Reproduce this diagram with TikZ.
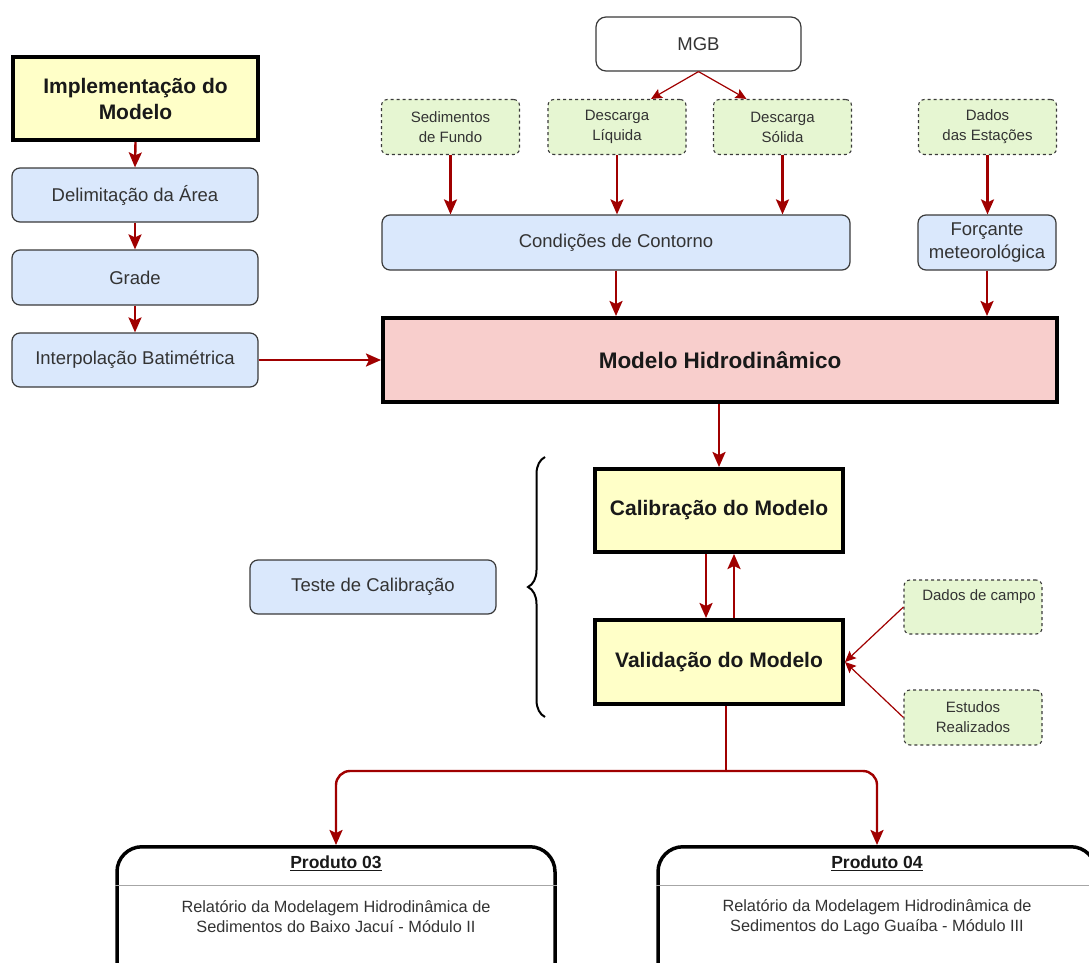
\documentclass[tikz,border=0pt]{standalone}
\usepackage{fontspec}
\setmainfont{Liberation Sans}
\usetikzlibrary{arrows.meta,decorations.pathreplacing,calc}
\newcommand{\fsz}[2]{\fontsize{#1}{#2}\selectfont}
\definecolor{arrred}{HTML}{A00000}
\definecolor{bluef}{HTML}{DAE8FC}
\definecolor{greenf}{HTML}{E6F6D2}
\definecolor{yellowf}{HTML}{FFFFC8}
\definecolor{pinkf}{HTML}{F8CECC}
\definecolor{textgray}{HTML}{333333}
\definecolor{bordgray}{HTML}{3A3A3A}
\tikzset{
  bluebox/.style={draw=bordgray, fill=bluef, rounded corners=8pt, line width=1.2pt,
    align=center, text=textgray, inner sep=0pt, font=\fsz{18.5}{23}},
  greenbox/.style={draw=bordgray, dashed, fill=greenf, rounded corners=6pt, line width=1.1pt,
    align=center, text=textgray, inner sep=0pt, font=\fsz{15}{20},
    minimum width=138pt, minimum height=55pt},
  boldbox/.style={draw=black, line width=4pt, align=center, inner sep=0pt,
    text=black!90, font=\bfseries\fsz{21}{26}},
  prodbox/.style={draw=black, line width=3.5pt, rounded corners=25pt, fill=white, inner sep=0pt},
  redarr/.style={draw=arrred, line width=2.4pt, -{Stealth[length=15pt, width=13pt, inset=3pt]}},
  thinarr/.style={draw=arrred, line width=1.2pt, -{Stealth[length=11pt, width=10pt, inset=2pt]}},
  redline/.style={draw=arrred, line width=2.4pt},
}
\begin{document}
\begin{tikzpicture}[x=1pt,y=-1pt]
\useasboundingbox (0,0) rectangle (1089,963);
\clip (0,0) rectangle (1089,963);

% left column
\node[boldbox, fill=yellowf, minimum width=245pt, minimum height=83pt] (impl) at (135.5,98.5) {Implementação do\\Modelo};
\node[bluebox, minimum width=246pt, minimum height=54pt] (delim) at (135,195) {Delimitação da Área};
\node[bluebox, minimum width=246pt, minimum height=55pt] (grade) at (135,277.5) {Grade};
\node[bluebox, minimum width=246pt, minimum height=54pt] (interp) at (135,360) {Interpolação Batimétrica};

% top
\node[draw=bordgray, fill=white, rounded corners=10pt, line width=1.2pt, text=textgray,
  font=\fsz{18.5}{23}, minimum width=205pt, minimum height=54pt, inner sep=0pt] (mgb) at (698.5,44) {MGB};
\node[greenbox] (sed) at (450.5,127) {Sedimentos\\de Fundo};
\node[greenbox] (liq) at (617,127) {Descarga\\Líquida};
\node[greenbox] (sol) at (782.5,127) {Descarga\\Sólida};
\node[greenbox] (dados) at (987.5,127) {Dados\\das Estações};
\node[bluebox, minimum width=468pt, minimum height=55pt] (cond) at (616,242.5) {Condições de Contorno};
\node[bluebox, minimum width=138pt, minimum height=55pt] (forc) at (987,242.5) {Forçante\\meteorológica};

\node[boldbox, fill=pinkf, minimum width=674pt, minimum height=84pt, font=\bfseries\fsz{22.5}{26}] (modelo) at (720,360) {Modelo Hidrodinâmico};

\node[boldbox, fill=yellowf, minimum width=248pt, minimum height=83pt] (calib) at (719,510.5) {Calibração do Modelo};
\node[boldbox, fill=yellowf, minimum width=248pt, minimum height=84pt] (valid) at (719,662) {Validação do Modelo};

\node[greenbox, minimum height=54pt,
  label={[text=textgray, font=\fsz{15}{20}, anchor=north, yshift=-7pt, xshift=6pt]north:Dados de campo}] (campo) at (973,607) {};
\node[greenbox] (estudos) at (973,717.5) {Estudos\\Realizados};

\node[bluebox, minimum width=246pt, minimum height=54pt] (teste) at (373,587) {Teste de Calibração};

% brace
\coordinate (bb) at (545,717);
\coordinate (bt) at (545,457);
\draw[line width=2pt, black, decorate, decoration={brace, amplitude=17pt}] (bb) -- (bt);

% products
\node[prodbox, minimum width=438pt, minimum height=170pt, anchor=north] (p3) at (336,845) {};
\node[prodbox, minimum width=438pt, minimum height=170pt, anchor=north] (p4) at (877,845) {};
\draw[black!35, line width=0.9pt] ([yshift=-40pt]p3.north west) -- ([yshift=-40pt]p3.north east);
\draw[black!35, line width=0.9pt] ([yshift=-40pt]p4.north west) -- ([yshift=-40pt]p4.north east);
\node[font=\bfseries\fsz{17.5}{20}, text=black!90] (p3t) at (336,863) {\underline{Produto 03}};
\node[font=\bfseries\fsz{17.5}{20}, text=black!90] (p4t) at (877,863) {\underline{Produto 04}};
\node[align=center, text=textgray, font=\fsz{16.3}{20}] (p3d) at (336,917) {Relatório da Modelagem Hidrodinâmica de\\Sedimentos do Baixo Jacuí - Módulo II};
\node[align=center, text=textgray, font=\fsz{16.3}{20}] (p4d) at (877,917) {Relatório da Modelagem Hidrodinâmica de\\Sedimentos do Lago Guaíba - Módulo III};

% connectors left column
\draw[redarr] (impl.south) -- (delim.north);
\draw[redarr] (delim.south) -- (grade.north);
\draw[redarr] (grade.south) -- (interp.north);
\draw[redarr] (interp.east) -- (modelo.west);

% MGB arrows
\draw[thinarr] (mgb.south) -- ([xshift=34pt]liq.north);
\draw[thinarr] (mgb.south) -- ([xshift=-36pt]sol.north);

\draw[redarr] (sed.south) -- (sed.south |- cond.north);
\draw[redarr] (liq.south) -- (liq.south |- cond.north);
\draw[redarr] (sol.south) -- (sol.south |- cond.north);
\draw[redarr] (dados.south) -- (dados.south |- forc.north);
\draw[redarr] (cond.south) -- (cond.south |- modelo.north);
\draw[redarr] (forc.south) -- (forc.south |- modelo.north);
\draw[redarr] (modelo.south -| calib.north) -- (calib.north);

\draw[redarr] ([xshift=-13pt]calib.south) -- ([xshift=-13pt]valid.north);
\draw[redarr] ([xshift=15pt]valid.north) -- ([xshift=15pt]calib.south);

\draw[thinarr] (campo.west) -- (valid.east);
\draw[thinarr] (estudos.west) -- (valid.east);

% bottom branch
\coordinate (j) at (726,771);
\draw[redline] (valid.south -| j) -- (j);
\draw[redarr, rounded corners=14pt] (j) -- (p3.north |- j) -- (p3.north);
\draw[redarr, rounded corners=14pt] (j) -- (p4.north |- j) -- (p4.north);
\end{tikzpicture}
\end{document}
